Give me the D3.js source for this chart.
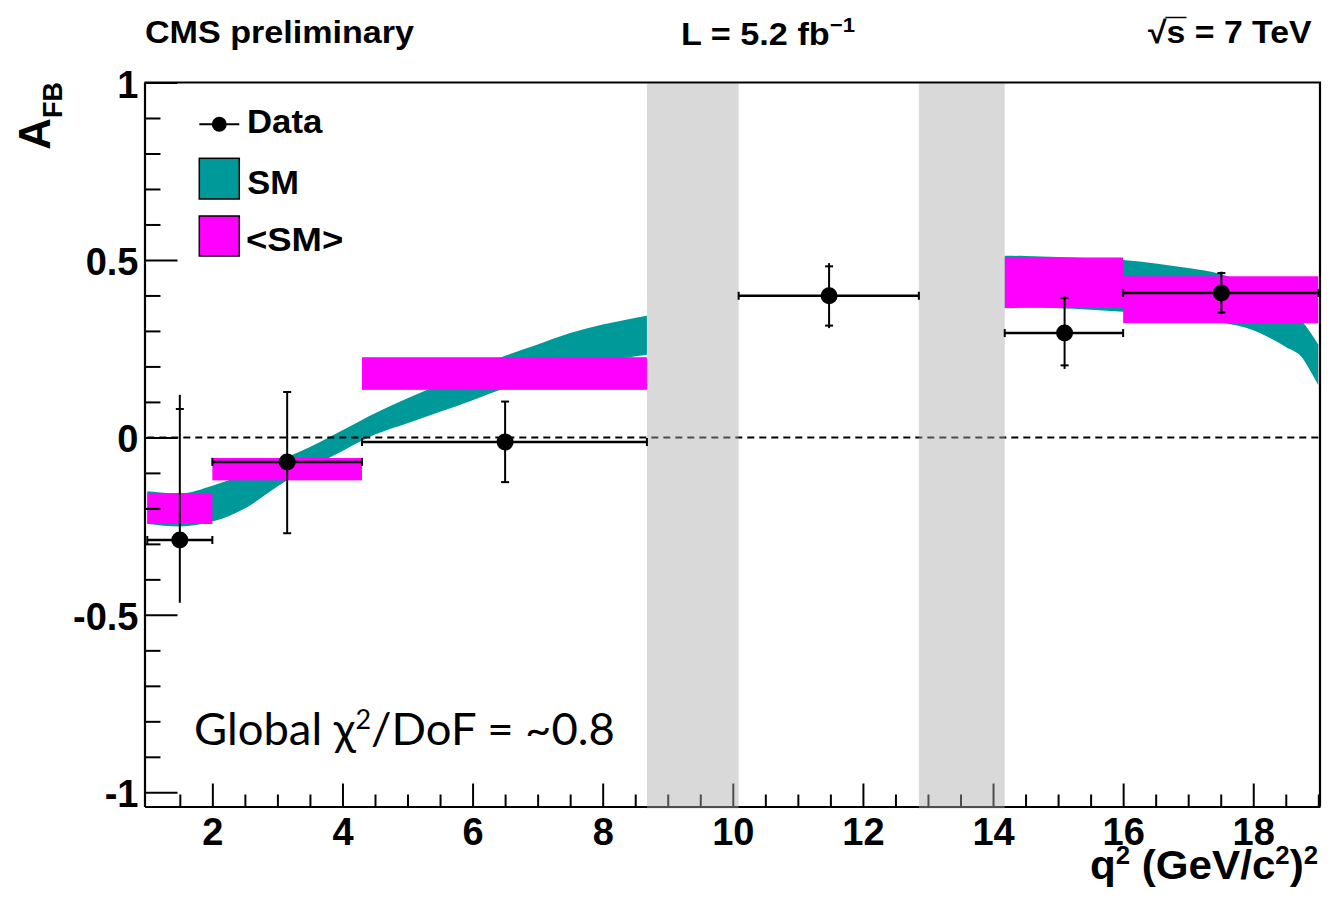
<!DOCTYPE html>
<html>
<head>
<meta charset="utf-8">
<script src="https://cdn.jsdelivr.net/npm/d3@7"></script>
<style>
  html, body { margin: 0; padding: 0; background: #fff; }
  svg { display: block; }
  text { font-family: "Liberation Sans", Arial, Helvetica, sans-serif; font-weight: bold; fill: #000; }
  text.note { font-family: Lato, "Open Sans", sans-serif; font-weight: normal; }
</style>
</head>
<body>
<svg id="chart" width="1334" height="899"></svg>
<script>
// ---- q^2 binning of the measurement ----
const binLo = [1, 2, 4.3, 10.09, 14.18, 16];
const binHi = [2, 4.3, 8.68, 12.86, 16, 19];

// ---- measured A_FB with statistical and total errors ----
const dataX = [1.5, 3.15, 6.5, 11.48, 15.1, 17.51];
const dataY = [-0.289, -0.069, -0.013, 0.399, 0.294, 0.407];
const statErrUp = [0.369, 0.197, 0.114, 0.083, 0.099, 0.056];
const statErrDn = [null, 0.201, 0.113, 0.084, 0.091, 0.055];
const totErrUp = [0.409, 0.197, 0.114, 0.092, 0.103, 0.060];
const totErrDn = [0.177, 0.201, 0.113, 0.091, 0.101, 0.059];

// ---- bin-averaged SM prediction <SM> ----
const avgLo = [1, 2, 4.3, 14.18, 16];
const avgHi = [2, 4.3, 8.68, 16, 19];
const avgMin = [-0.244, -0.121, 0.134, 0.366, 0.322];
const avgMax = [-0.157, -0.058, 0.226, 0.507, 0.454];

// ---- SM prediction band, below the J/psi ----
const smQ2Low = [1.0, 1.5, 2.0, 2.5, 3.0, 3.5, 4.0, 4.5, 5.0, 5.5, 6.0, 6.5, 7.0, 7.5, 8.0, 8.68];
const smUpLow = [-0.152, -0.158, -0.136, -0.103, -0.066, -0.027, 0.020, 0.068, 0.110, 0.150, 0.190, 0.230, 0.262, 0.294, 0.318, 0.343];
const smDnLow = [-0.243, -0.251, -0.237, -0.200, -0.138, -0.085, -0.038, 0.008, 0.040, 0.072, 0.105, 0.139, 0.168, 0.193, 0.213, 0.233];

// ---- SM prediction band, above the psi(2S) ----
const smQ2High = [14.18, 14.5, 15.0, 15.5, 16.0, 16.5, 17.0, 17.5, 18.0, 18.25, 18.5, 18.75, 18.9, 19.0];
const smUpHigh = [0.512, 0.511, 0.508, 0.505, 0.500, 0.490, 0.477, 0.460, 0.428, 0.405, 0.378, 0.328, 0.290, 0.262];
const smDnHigh = [0.364, 0.365, 0.364, 0.360, 0.354, 0.346, 0.336, 0.324, 0.302, 0.281, 0.255, 0.225, 0.180, 0.148];

// ---- charmonium veto regions ----
const vetoLo = [8.68, 12.86];
const vetoHi = [10.09, 14.18];

// ---- axis ticks ----
const xMajor = [2, 4, 6, 8, 10, 12, 14, 16, 18];
const xMinor = d3.range(1.5, 19.01, 0.5).filter(v => !xMajor.includes(v));
const yMajor = [-1, -0.5, 0, 0.5, 1];
const yMajorLabels = ["-1", "-0.5", "0", "0.5", "1"];
const yMinor = d3.range(-9, 10).map(v => v / 10).filter(v => !yMajor.includes(v));

const TEAL = "#009999";
const MAGENTA = "#ff00ff";

const svg = d3.select("#chart");
const L = 144.5, R = 1320, T = 82.5, B = 806.5;

const x = d3.scaleLinear().domain([0.957, 19.026]).range([L, R]);
const y = d3.scaleLinear().domain([-1.04, 1]).range([B, T]);

// stretch a text element horizontally so it spans [x0, x1]
function fitX(sel, x0, x1) {
  const b = sel.node().getBBox();
  const s = (x1 - x0) / b.width;
  sel.attr("transform", `translate(${x0},0) scale(${s},1) translate(${-b.x},0)`);
}

const defs = svg.append("defs");
defs.append("clipPath").attr("id", "plotClip")
  .append("rect").attr("x", L).attr("y", T).attr("width", R - L).attr("height", B - T);

const plot = svg.append("g").attr("clip-path", "url(#plotClip)");

// SM band
const area = d3.area()
  .x(d => x(d.q)).y0(d => y(d.lo)).y1(d => y(d.hi))
  .curve(d3.curveMonotoneX);
const bandLow = smQ2Low.map((q, i) => ({ q, lo: smDnLow[i], hi: smUpLow[i] }));
const bandHigh = smQ2High.map((q, i) => ({ q, lo: smDnHigh[i], hi: smUpHigh[i] }));
plot.selectAll("path.sm").data([bandLow, bandHigh]).join("path")
  .attr("class", "sm").attr("d", area).attr("fill", TEAL);

// <SM> boxes
plot.selectAll("rect.avg").data(avgLo).join("rect")
  .attr("class", "avg")
  .attr("x", (d, i) => x(avgLo[i]))
  .attr("width", (d, i) => x(avgHi[i]) - x(avgLo[i]))
  .attr("y", (d, i) => y(avgMax[i]))
  .attr("height", (d, i) => y(avgMin[i]) - y(avgMax[i]))
  .attr("fill", MAGENTA);

// bottom axis
const gx = svg.append("g").attr("transform", `translate(0,${B})`);
gx.call(d3.axisBottom(x).tickValues(xMajor).tickSize(-23).tickSizeOuter(0).tickFormat(d3.format("d")));
gx.append("g").call(d3.axisBottom(x).tickValues(xMinor).tickSize(-12).tickSizeOuter(0).tickFormat(""))
  .select(".domain").remove();
gx.selectAll("path.domain").attr("stroke", "#000").attr("stroke-width", 2.2);
gx.selectAll(".tick line").attr("stroke", "#000").attr("stroke-width", 2);
gx.selectAll(".tick text")
  .attr("y", 38).attr("dy", 0)
  .attr("font-size", 38).attr("fill", "#000");
gx.attr("font-family", null).attr("font-size", null);

// veto bands (light screen over everything beneath, including the axis)
svg.append("g").selectAll("rect.veto").data(vetoLo).join("rect")
  .attr("class", "veto")
  .attr("x", (d, i) => x(vetoLo[i]))
  .attr("width", (d, i) => x(vetoHi[i]) - x(vetoLo[i]))
  .attr("y", T + 1).attr("height", B - T + 1)
  .attr("fill", "#aaaaaa").attr("fill-opacity", 0.45);

// zero line
plot.append("line")
  .attr("x1", x(1)).attr("x2", x(19))
  .attr("y1", y(0)).attr("y2", y(0))
  .attr("stroke", "#000").attr("stroke-width", 2).attr("stroke-dasharray", "7,5");

// left axis
const gy = svg.append("g").attr("transform", `translate(${L},0)`);
gy.call(d3.axisLeft(y).tickValues(yMajor).tickSize(-33).tickSizeOuter(0)
  .tickFormat((d, i) => yMajorLabels[i]));
gy.append("g").call(d3.axisLeft(y).tickValues(yMinor).tickSize(-16).tickSizeOuter(0).tickFormat(""))
  .select(".domain").remove();
gy.selectAll("path.domain").attr("stroke", "#000").attr("stroke-width", 2.2);
gy.selectAll(".tick line").attr("stroke", "#000").attr("stroke-width", 2);
gy.selectAll(".tick text")
  .attr("x", -6).attr("dy", 0).attr("y", 14.5)
  .attr("font-size", 38).attr("fill", "#000");
gy.attr("font-family", null).attr("font-size", null);

// top and right frame
svg.append("path")
  .attr("d", `M${L},${T}H${R}V${B}`)
  .attr("fill", "none").attr("stroke", "#000").attr("stroke-width", 2.2);

// data with errors
const pts = dataX.map((q, i) => ({ i, q, v: dataY[i] }));
const gd = svg.append("g").attr("stroke", "#000");
pts.forEach(p => {
  const i = p.i, cx = x(p.q), cy = y(p.v);
  const xl = x(binLo[i]), xr = x(binHi[i]);
  gd.append("line").attr("x1", xl).attr("x2", xr).attr("y1", cy).attr("y2", cy).attr("stroke-width", 2.5);
  [xl, xr].forEach(xe => gd.append("line").attr("x1", xe).attr("x2", xe)
    .attr("y1", cy - 4).attr("y2", cy + 4).attr("stroke-width", 2));
  gd.append("line").attr("x1", cx).attr("x2", cx)
    .attr("y1", y(p.v + totErrUp[i])).attr("y2", y(p.v - totErrDn[i])).attr("stroke-width", 2);
  [p.v + statErrUp[i], statErrDn[i] === null ? null : p.v - statErrDn[i]]
    .filter(v => v !== null)
    .forEach(v => gd.append("line").attr("x1", cx - 4).attr("x2", cx + 4)
      .attr("y1", y(v)).attr("y2", y(v)).attr("stroke-width", 2));
  gd.append("circle").attr("cx", cx).attr("cy", cy).attr("r", 8.5).attr("fill", "#000").attr("stroke", "none");
});

// legend
const lg = svg.append("g");
lg.append("line").attr("x1", 199.3).attr("x2", 239.3).attr("y1", 124.3).attr("y2", 124.3)
  .attr("stroke", "#000").attr("stroke-width", 2);
lg.append("circle").attr("cx", 219.3).attr("cy", 124.3).attr("r", 7.5).attr("fill", "#000");
lg.append("rect").attr("x", 199.3).attr("y", 158.3).attr("width", 40).attr("height", 40.7)
  .attr("fill", TEAL).attr("stroke", "#000").attr("stroke-width", 1.5);
lg.append("rect").attr("x", 199.3).attr("y", 216).attr("width", 40).attr("height", 40)
  .attr("fill", MAGENTA).attr("stroke", "#000").attr("stroke-width", 1.5);
const tData = lg.append("text").attr("x", 247).attr("y", 133).attr("font-size", 33).text("Data");
fitX(tData, 247, 323);
const tSM = lg.append("text").attr("x", 247).attr("y", 194).attr("font-size", 33).text("SM");
fitX(tSM, 247.3, 299);
const tAvg = lg.append("text").attr("x", 246).attr("y", 250.7).attr("font-size", 33).text("<SM>");
fitX(tAvg, 246, 343.3);

// header
const tCMS = svg.append("text").attr("x", 145).attr("y", 43.5).attr("font-size", 31).text("CMS preliminary");
fitX(tCMS, 145, 415);
const tLumi = svg.append("text").attr("x", 681).attr("y", 45).attr("font-size", 31);
tLumi.append("tspan").text("L = 5.2 fb");
tLumi.append("tspan").attr("dy", -13).attr("font-size", 20).text("\u22121");
fitX(tLumi, 681, 855);
const tSqrt = svg.append("text").attr("x", 1148).attr("y", 43.5).attr("font-size", 31).text("\u221As = 7 TeV");
{
  const n = tSqrt.node();
  const sx0 = n.getStartPositionOfChar(1).x;
  const sx1 = n.getEndPositionOfChar(1).x;
  const b = n.getBBox();
  const s = (1312 - 1148) / b.width;
  const g = svg.append("g").attr("transform", `translate(1148,0) scale(${s},1) translate(${-b.x},0)`);
  g.node().appendChild(n);
  g.append("line").attr("x1", sx0 - 1).attr("x2", sx1 + 1).attr("y1", 17.5).attr("y2", 17.5)
    .attr("stroke", "#000").attr("stroke-width", 1.5);
}

// axis titles
const tY = svg.append("text").attr("transform", "translate(50,82) rotate(-90)")
  .attr("text-anchor", "end").attr("font-size", 44);
tY.append("tspan").text("A");
tY.append("tspan").attr("dy", 12).attr("font-size", 27).text("FB");

const tX = svg.append("text").attr("y", 879).attr("font-size", 41);
tX.append("tspan").text("q");
tX.append("tspan").attr("dy", -15).attr("font-size", 25).text("2");
tX.append("tspan").attr("dy", 15).text(" (GeV/c");
tX.append("tspan").attr("dy", -15).attr("font-size", 25).text("2");
tX.append("tspan").attr("dy", 15).text(")");
tX.append("tspan").attr("dy", -15).attr("font-size", 25).text("2");
fitX(tX, 1090, 1318);

// fit quality annotation
const tChi = svg.append("text").attr("class", "note").attr("y", 745).attr("font-size", 44);
tChi.append("tspan").text("Global \u03C7");
tChi.append("tspan").attr("dy", -16).attr("font-size", 26).text("2");
tChi.append("tspan").attr("dy", 16).text("/DoF = ~0.8");
fitX(tChi, 194, 615);
</script>
</body>
</html>
